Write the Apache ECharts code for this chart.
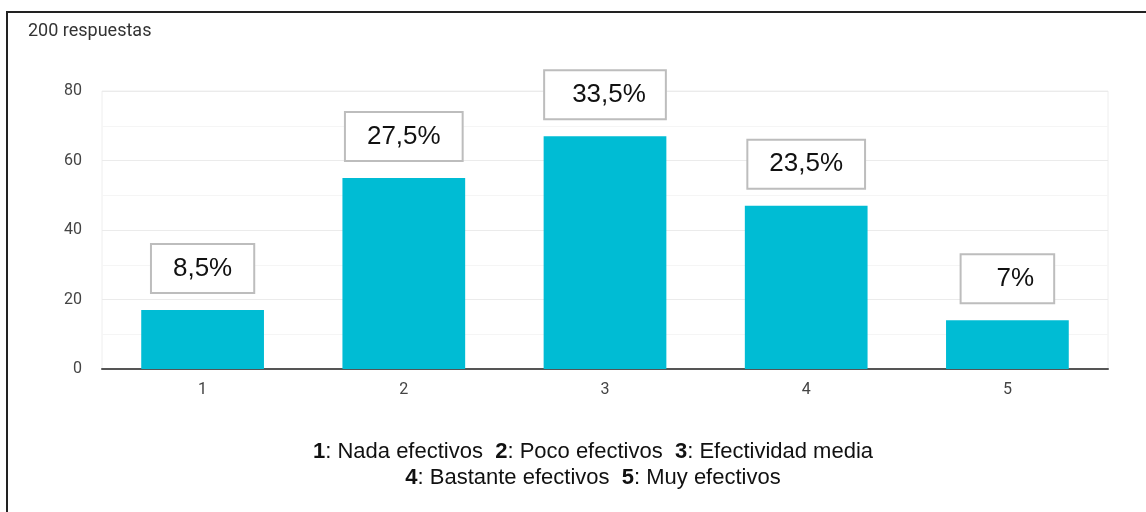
<!DOCTYPE html>
<html>
<head>
<meta charset="utf-8">
<script src="https://cdn.jsdelivr.net/npm/echarts@6/dist/echarts.min.js"></script>
<style>
  html, body { margin: 0; padding: 0; background: #fff; }
  #chart { width: 1146px; height: 512px; }
</style>
</head>
<body>
<div id="chart"></div>
<script>
// datos
var total = 200
var categories = ['1', '2', '3', '4', '5']
var counts = [17, 55, 67, 47, 14]
var yTicks = [0, 20, 40, 60, 80]
var legendNames = ['Nada efectivos', 'Poco efectivos', 'Efectividad media', 'Bastante efectivos', 'Muy efectivos']

var sans = 'Liberation Sans, Arial, sans-serif'

function pct(v) {
  var p = Math.round(v / total * 1000) / 10
  return String(p).replace('.', ',') + '%'
}

function legendLine(from, to) {
  var parts = []
  for (var i = from; i < to; i++) {
    parts.push('{b|' + categories[i] + '}{n|: ' + legendNames[i] + '}')
  }
  return parts.join('{n|  }')
}

// cajas del 33,5% y 7%: texto desplazado a la derecha
var barData = counts.map(function (v, i) {
  var item = { value: v }
  if (i === 2) item.label = { padding: [9, 19, 9, 27] }
  if (i === 4) item.label = { padding: [9, 19, 9, 35] }
  return item
})

var myChart = echarts.init(document.getElementById('chart'))
myChart.setOption({
  animation: false,
  grid: {
    left: 102, right: 38, top: 91, bottom: 143,
    show: true, borderColor: '#eeeeee', borderWidth: 1
  },
  xAxis: {
    type: 'category',
    data: categories,
    axisLine: { lineStyle: { color: '#555', width: 2 } },
    axisTick: { show: false },
    axisLabel: { color: '#444', fontFamily: 'Roboto', fontSize: 16, margin: 13 }
  },
  yAxis: {
    type: 'value',
    min: yTicks[0],
    max: yTicks[yTicks.length - 1],
    interval: 20,
    axisLine: { show: false },
    axisTick: { show: false },
    axisLabel: { color: '#444', fontFamily: 'Roboto', fontSize: 16, margin: 20 },
    splitLine: { lineStyle: { color: '#ebebeb', width: 1 } },
    minorTick: { show: false, splitNumber: 2 },
    minorSplitLine: { show: true, lineStyle: { color: '#f5f5f5', width: 1 } }
  },
  series: [{
    type: 'bar',
    data: barData,
    barWidth: '61%',
    itemStyle: { color: '#00bcd4' },
    label: {
      show: true,
      position: 'top',
      distance: 18,
      formatter: function (p) { return pct(p.value) },
      fontFamily: sans,
      fontSize: 26,
      color: '#111',
      lineHeight: 29,
      backgroundColor: '#fff',
      borderColor: '#bdbdbd',
      borderWidth: 2,
      padding: [9, 21]
    }
  }],
  graphic: [
    {
      type: 'polyline',
      shape: { points: [[7, 512], [7, 12], [1146, 12]] },
      style: { stroke: '#222', lineWidth: 2, fill: null }
    },
    {
      type: 'text',
      left: 28, top: 22,
      style: { text: total + ' respuestas', fontFamily: 'Roboto', fontSize: 18, fill: '#333' }
    },
    {
      type: 'text',
      x: 593, y: 439,
      style: {
        text: legendLine(0, 3) + '\n' + legendLine(3, 5),
        fontFamily: sans,
        fontSize: 22,
        fill: '#111',
        align: 'center',
        lineHeight: 26,
        rich: {
          b: { fontFamily: sans, fontSize: 22, fontWeight: 'bold', fill: '#111', lineHeight: 26 },
          n: { fontFamily: sans, fontSize: 22, fill: '#111', lineHeight: 26 }
        }
      }
    }
  ]
})
</script>
</body>
</html>
